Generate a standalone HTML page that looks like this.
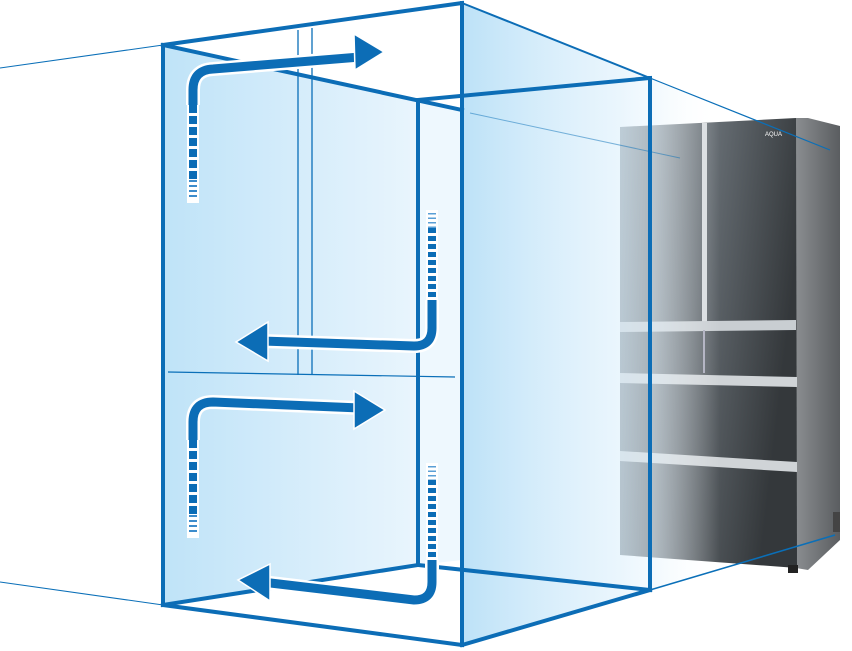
<!DOCTYPE html>
<html><head><meta charset="utf-8"><style>html,body{margin:0;padding:0;background:#fff}svg{display:block}</style></head>
<body>
<svg width="852" height="651" viewBox="0 0 852 651" xmlns="http://www.w3.org/2000/svg">
<defs>
<linearGradient id="lf" x1="0" x2="1" y1="0" y2="0"><stop offset="0" stop-color="#bfe3f8"/><stop offset="1" stop-color="#e9f5fd"/></linearGradient>
<linearGradient id="rf" x1="0" x2="1" y1="0" y2="0"><stop offset="0" stop-color="#b9e0f7" stop-opacity="0.95"/><stop offset="0.85" stop-color="#ddf0fc" stop-opacity="0.6"/><stop offset="1" stop-color="#e6f4fd" stop-opacity="0.45"/></linearGradient>
<linearGradient id="ex" x1="0" x2="1" y1="0" y2="0"><stop offset="0" stop-color="#e6f4fd" stop-opacity="0.6"/><stop offset="1" stop-color="#ffffff" stop-opacity="0"/></linearGradient>
<linearGradient id="fr" x1="0" x2="1" y1="0" y2="0.3"><stop offset="0" stop-color="#8e979e"/><stop offset="0.5" stop-color="#666d73"/><stop offset="1" stop-color="#34383b"/></linearGradient>
<linearGradient id="side" x1="0" x2="1"><stop offset="0" stop-color="#8a8d90"/><stop offset="1" stop-color="#5a5d60"/></linearGradient>
</defs>
<!-- fridge -->
<polygon points="796,118 808,118 840,126 840,540 808,570 796,568" fill="url(#side)"/>
<polygon points="620,127 796,118 797,568 620,555" fill="url(#fr)"/>
<rect x="702" y="123" width="5" height="200" fill="#d8dcdf"/>
<polygon points="620,322 796,320 796,330 620,332" fill="#c9ced2"/>
<polygon points="620,373 797,377 797,387 620,383" fill="#d0d4d7"/>
<polygon points="620,451 797,462 797,472 620,461" fill="#d0d4d7"/>
<line x1="704" y1="330" x2="704" y2="373" stroke="#aab" stroke-width="2"/>
<rect x="788" y="565" width="10" height="8" fill="#222"/>
<rect x="833" y="512" width="7" height="20" fill="#444"/>
<text x="765" y="136" font-family="Liberation Sans, sans-serif" font-size="6" fill="#fff">AQUA</text>
<!-- left face -->
<polygon points="163,45 418,100 418,565 163,605" fill="url(#lf)"/>
<!-- front-right face -->
<polygon points="462,3 650,78 650,590 462,645" fill="url(#rf)"/>
<polygon points="650,78 720,106 720,568 650,590" fill="url(#ex)"/>
<polygon points="418,100 462,110 462,560 418,565" fill="#eef8fe"/>
<!-- thin extension lines -->
<g stroke="#0a6fb8" fill="none">
<line x1="0" y1="68" x2="163" y2="45" stroke-width="1"/>
<line x1="0" y1="582" x2="163" y2="605" stroke-width="1"/>
<line x1="650" y1="78" x2="830" y2="150" stroke-width="1.2"/>
<line x1="470" y1="113" x2="680" y2="158" stroke-width="1" opacity="0.5"/>
<line x1="650" y1="590" x2="835" y2="535" stroke-width="1.5"/>
<line x1="298" y1="30" x2="298" y2="375" stroke-width="1.3"/>
<line x1="312" y1="28" x2="312" y2="375" stroke-width="1.3"/>
<line x1="168" y1="372" x2="455" y2="377" stroke-width="1.2"/>
</g>
<!-- box thick edges -->
<g stroke="#0c6db6" stroke-width="4" fill="none" stroke-linecap="square">
<line x1="163" y1="45" x2="462" y2="3"/>
<line x1="163" y1="45" x2="462" y2="110"/>
<line x1="418" y1="100" x2="650" y2="78"/>
<line x1="462" y1="3" x2="650" y2="78" stroke-width="2"/>
<line x1="163" y1="45" x2="163" y2="605"/>
<line x1="462" y1="3" x2="462" y2="645"/>
<line x1="650" y1="78" x2="650" y2="590"/>
<line x1="418" y1="100" x2="418" y2="565"/>
<line x1="163" y1="605" x2="418" y2="565"/>
<line x1="163" y1="605" x2="462" y2="645"/>
<line x1="462" y1="645" x2="650" y2="590"/>
<line x1="418" y1="565" x2="650" y2="590"/>
</g>
<!-- arrows -->
<g fill="none" stroke-linejoin="round">
<path d="M193,105 L193,90 Q193,70 213,69 L360,57" stroke="#fff" stroke-width="14"/>
<path d="M193,105 L193,90 Q193,70 213,69 L360,57" stroke="#0c6db6" stroke-width="9"/>
<path d="M432,300 L432,328 Q432,346 414,346 L262,341" stroke="#fff" stroke-width="14"/>
<path d="M432,300 L432,328 Q432,346 414,346 L262,341" stroke="#0c6db6" stroke-width="9"/>
<path d="M193,440 L193,422 Q193,402 213,402 L360,408" stroke="#fff" stroke-width="14"/>
<path d="M193,440 L193,422 Q193,402 213,402 L360,408" stroke="#0c6db6" stroke-width="9"/>
<path d="M432,560 L432,582 Q432,600 414,600 L262,582" stroke="#fff" stroke-width="14"/>
<path d="M432,560 L432,582 Q432,600 414,600 L262,582" stroke="#0c6db6" stroke-width="9"/>
<path d="M193,105 L193,203" stroke="#fff" stroke-width="12"/>
<path d="M193,105 L193,180" stroke="#0c6db6" stroke-width="8" stroke-dasharray="8,3"/>
<path d="M193,180 L193,198" stroke="#3c8ccc" stroke-width="8" stroke-dasharray="2,3"/>
<path d="M432,210 L432,300" stroke="#fff" stroke-width="12"/>
<path d="M432,228 L432,300" stroke="#0c6db6" stroke-width="8" stroke-dasharray="5,3"/>
<path d="M432,213 L432,228" stroke="#5a9fd6" stroke-width="8" stroke-dasharray="1.5,3"/>
<path d="M193,440 L193,538" stroke="#fff" stroke-width="12"/>
<path d="M193,440 L193,515" stroke="#0c6db6" stroke-width="8" stroke-dasharray="8,3"/>
<path d="M193,515 L193,533" stroke="#3c8ccc" stroke-width="8" stroke-dasharray="2,3"/>
<path d="M432,463 L432,560" stroke="#fff" stroke-width="12"/>
<path d="M432,480 L432,560" stroke="#0c6db6" stroke-width="8" stroke-dasharray="5,3"/>
<path d="M432,466 L432,480" stroke="#5a9fd6" stroke-width="8" stroke-dasharray="1.5,3"/>
</g>
<g fill="#0c6db6" stroke="#fff" stroke-width="1.5">
<polygon points="354,34 384,52 355,70"/>
<polygon points="268,322 236,342 268,361"/>
<polygon points="354,391 385,410 354,429"/>
<polygon points="270,564 238,580 270,601"/>
</g>
</svg>
</body></html>
